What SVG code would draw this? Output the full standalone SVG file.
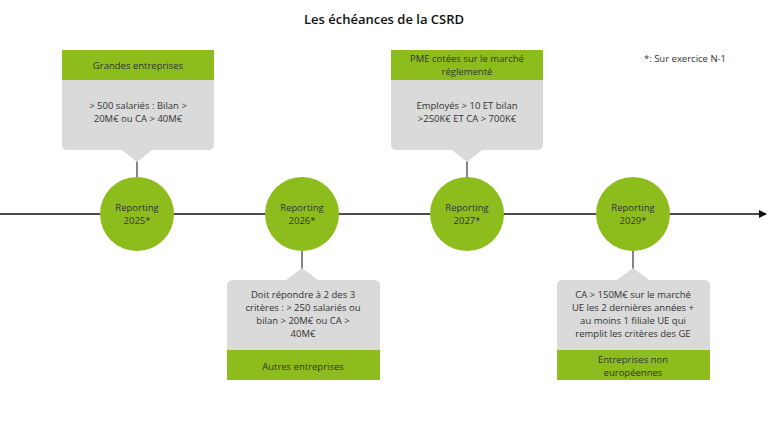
<svg xmlns="http://www.w3.org/2000/svg" width="768" height="430" viewBox="0 0 768 430">
<style>
text{font-family:"Open Sans","Liberation Sans",sans-serif;font-size:9.5px;fill:#333;text-anchor:middle}
.t{font-size:13px;font-weight:600;fill:#111}
.g{fill:#8dbd1d}
.c{fill:#8dbd1d}
.b{fill:#dadada}
.l{stroke:#444;stroke-width:1.3}
</style>
<defs><marker id="ar" markerWidth="8" markerHeight="8" refX="7" refY="4" orient="auto" markerUnits="userSpaceOnUse"><path d="M0,0 L8,4 L0,8 Z" fill="#111"/></marker></defs>
<rect width="768" height="430" fill="#fff"/>
<text class="t" x="384" y="24">Les échéances de la CSRD</text>
<text x="685" y="62" style="text-anchor:middle">*: Sur exercice N-1</text>
<g id="connectors">
<line x1="0" y1="214" x2="766" y2="214" stroke="#111" stroke-width="1.5" marker-end="url(#ar)"/>
<line class="l" x1="137" y1="160" x2="137" y2="178"/>
<line class="l" x1="467" y1="160" x2="467" y2="178"/>
<line class="l" x1="302" y1="251" x2="302" y2="270"/>
<line class="l" x1="633" y1="251" x2="633" y2="270"/>
</g>
<g id="n2025"><circle class="c" cx="137" cy="214" r="37"/><text x="137" y="211">Reporting</text><text x="137" y="224">2025*</text></g>
<g id="n2026"><circle class="c" cx="302" cy="214" r="37"/><text x="302" y="211">Reporting</text><text x="302" y="224">2026*</text></g>
<g id="n2027"><circle class="c" cx="467" cy="214" r="37"/><text x="467" y="211">Reporting</text><text x="467" y="224">2027*</text></g>
<g id="n2029"><circle class="c" cx="633" cy="214" r="37"/><text x="633" y="211">Reporting</text><text x="633" y="224">2029*</text></g>
<g id="box1">
<path class="b" d="M62,80 H214 V144 Q214,150 208,150 H152 L137,162 L122,150 H68 Q62,150 62,144 Z"/>
<rect class="g" x="62" y="50" width="152" height="30"/>
<text x="138" y="69">Grandes entreprises</text>
<text x="138" y="109">&gt; 500 salariés : Bilan &gt;</text>
<text x="138" y="122">20M€  ou CA &gt; 40M€</text>
</g>
<g id="box3">
<path class="b" d="M391,80 H543 V144 Q543,150 537,150 H482 L467,162 L452,150 H397 Q391,150 391,144 Z"/>
<rect class="g" x="391" y="50" width="152" height="30"/>
<text x="467" y="62">PME cotées sur le marché</text>
<text x="467" y="75">réglementé</text>
<text x="467" y="109">Employés &gt; 10 ET bilan</text>
<text x="467" y="122">&gt;250K€ ET CA &gt; 700K€</text>
</g>
<g id="box2">
<path class="b" d="M227,350 H380 V286 Q380,280 374,280 H318 L302,268 L286,280 H233 Q227,280 227,286 Z"/>
<rect class="g" x="227" y="350" width="153" height="30"/>
<text x="303" y="298">Doit répondre à 2 des 3</text>
<text x="303" y="311">critères : &gt; 250 salariés ou</text>
<text x="303" y="324">bilan &gt; 20M€ ou CA &gt;</text>
<text x="303" y="337">40M€</text>
<text x="303" y="370">Autres entreprises</text>
</g>
<g id="box4">
<path class="b" d="M557,350 H710 V286 Q710,280 704,280 H649 L633,268 L617,280 H563 Q557,280 557,286 Z"/>
<rect class="g" x="557" y="350" width="153" height="30"/>
<text x="633" y="298">CA &gt; 150M€ sur le marché</text>
<text x="633" y="311">UE les 2 dernières années +</text>
<text x="633" y="324">au moins 1 filiale UE qui</text>
<text x="633" y="337">remplit les critères des GE</text>
<text x="633" y="363">Entreprises non</text>
<text x="633" y="376">européennes</text>
</g>
</svg>
